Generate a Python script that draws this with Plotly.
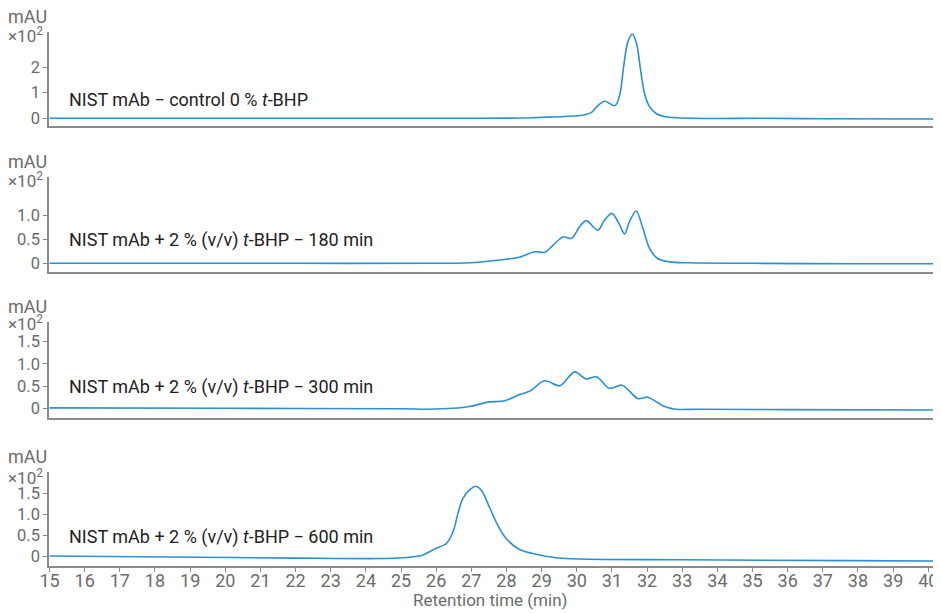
import plotly.graph_objects as go

# ---- data ----
t_ctrl = [15, 22, 27, 28.35, 29.05, 29.65, 30.17, 30.42, 30.57, 30.79, 31.09, 31.22, 31.34, 31.45,
          31.58, 31.70, 31.81, 31.93, 32.07, 32.27, 32.52, 32.87, 34, 35.2, 37, 40.2]
v_ctrl = [-0.01, -0.01, -0.01, 0.0, 0.03, 0.06, 0.11, 0.22, 0.45, 0.66, 0.49, 0.9, 2.1, 3.0,
          3.32, 2.95, 1.95, 0.95, 0.45, 0.17, 0.05, 0.01, -0.02, -0.01, -0.03, -0.04]

t_180 = [15, 22, 26.0, 26.95, 27.81, 28.33, 28.81, 29.09, 29.33, 29.61, 29.85, 30.08, 30.27, 30.60,
         30.79, 31.0, 31.22, 31.36, 31.50, 31.69, 31.88, 32.07, 32.30, 32.63, 33.2, 35, 38, 40.2]
v_180 = [0.0, 0.0, 0.0, 0.01, 0.07, 0.12, 0.24, 0.23, 0.38, 0.55, 0.52, 0.76, 0.89, 0.69,
         0.90, 1.04, 0.80, 0.61, 0.87, 1.09, 0.73, 0.31, 0.10, 0.03, 0.01, 0.0, -0.01, -0.01]

t_300 = [15, 20, 25, 25.8, 26.48, 26.95, 27.48, 27.95, 28.38, 28.67, 29.09, 29.52, 29.94, 30.27,
         30.56, 30.93, 31.29, 31.74, 32.02, 32.44, 32.82, 33.48, 36, 40.2]
v_300 = [0.01, 0.0, -0.01, -0.02, 0.0, 0.04, 0.14, 0.17, 0.31, 0.39, 0.62, 0.51, 0.82, 0.66,
         0.71, 0.45, 0.52, 0.22, 0.25, 0.06, -0.02, -0.02, -0.03, -0.04]

t_600 = [15, 19.3, 22, 24.4, 25.06, 25.58, 25.96, 26.29, 26.48, 26.62, 26.76, 26.95, 27.12, 27.28,
         27.51, 27.75, 27.99, 28.36, 28.84, 29.41, 30.07, 33, 37.7, 40.2]
v_600 = [0.0, -0.03, -0.05, -0.06, -0.04, 0.01, 0.17, 0.30, 0.58, 1.02, 1.38, 1.58, 1.67, 1.58,
         1.18, 0.74, 0.42, 0.16, 0.04, -0.04, -0.07, -0.09, -0.11, -0.12]

labels = ["NIST mAb \u2212 control 0 % <i>t</i>-BHP",
          "NIST mAb + 2 % (v/v) <i>t</i>-BHP \u2212 180 min",
          "NIST mAb + 2 % (v/v) <i>t</i>-BHP \u2212 300 min",
          "NIST mAb + 2 % (v/v) <i>t</i>-BHP \u2212 600 min"]
label_y = [0.75, 0.485, 0.49, 0.46]

y_ranges = [[-0.316, 3.40], [-0.175, 1.804], [-0.225, 1.95], [-0.239, 2.017]]
y_ticks = [[0, 1, 2], [0, 0.5, 1.0], [0, 0.5, 1.0, 1.5], [0, 0.5, 1.0, 1.5]]
y_ticktext = [["0", "1", "2"], ["0", "0.5", "1.0"], ["0", "0.5", "1.0", "1.5"], ["0", "0.5", "1.0", "1.5"]]

x_ticks = list(range(15, 41))
x_range = [14.985, 40.22]

# the page offsets the figure by the default 8px body margin
OFF = 8
W, H = 941 - OFF, 613 - OFF
ML, MR = 49 - OFF, 5
PW = W - ML - MR
# positions measured in screen pixels of the reference
panel_px = [(32, 126), (176.7, 271.7), (321.7, 418.3), (471.7, 566)]
unit_px = [(16.7, 35), (161.7, 180), (306.7, 323), (456, 476.7)]


def fy(py):
    return 1 - (py - OFF) / H


def fx(px):
    return (px - OFF - ML) / PW


LINE = "#2a8fd6"
AX = "#8a8a8a"
TXT = "#6b6b6b"
FONT = "Roboto"

series = [(t_ctrl, v_ctrl), (t_180, v_180), (t_300, v_300), (t_600, v_600)]

fig = go.Figure()
layout = dict(
    width=W, height=H,
    margin=dict(l=ML, r=MR, t=0, b=0, autoexpand=False),
    plot_bgcolor="white", paper_bgcolor="white",
    showlegend=False,
    font=dict(family=FONT, color=TXT),
)
annotations = []
for i, (tx, vy) in enumerate(series):
    n = i + 1
    xa = "x" if n == 1 else f"x{n}"
    ya = "y" if n == 1 else f"y{n}"
    fig.add_trace(go.Scatter(x=tx, y=vy, mode="lines", xaxis=xa, yaxis=ya,
                             line=dict(color=LINE, width=1.6, shape="spline", smoothing=0.9),
                             hoverinfo="skip"))
    top, bot = panel_px[i]
    dom = [fy(bot), fy(top)]
    bottom_panel = (n == 4)
    layout[f"xaxis{'' if n == 1 else n}"] = dict(
        domain=[0, 1], range=x_range, anchor=ya, automargin=False,
        showline=True, linecolor=AX, linewidth=2, mirror=False,
        showgrid=False, zeroline=False,
        tickvals=x_ticks if bottom_panel else [],
        ticks="outside" if bottom_panel else "", ticklen=4, tickcolor=AX, tickwidth=1,
        showticklabels=bottom_panel, ticklabelstandoff=-7,
        tickfont=dict(family=FONT, size=18, color=TXT),
        fixedrange=True,
    )
    layout[f"yaxis{'' if n == 1 else n}"] = dict(
        domain=dom, range=y_ranges[i], anchor=xa, automargin=False,
        showline=True, linecolor=AX, linewidth=1.5,
        showgrid=False, zeroline=False,
        tickvals=y_ticks[i], ticktext=y_ticktext[i],
        ticks="outside", ticklen=4, tickcolor=AX, tickwidth=1,
        tickfont=dict(family=FONT, size=16.5, color=TXT),
        fixedrange=True,
    )
    annotations.append(dict(text=labels[i], x=15.5, y=label_y[i], xref=xa, yref=ya,
                            xanchor="left", yanchor="middle", showarrow=False,
                            font=dict(family=FONT, size=18, color="#222222")))
    uy1, uy2 = unit_px[i]
    annotations.append(dict(text="mAU", x=fx(27), y=fy(uy1),
                            xref="paper", yref="paper",
                            xanchor="center", yanchor="middle", showarrow=False,
                            font=dict(family=FONT, size=18, color=TXT)))
    annotations.append(dict(text="\u00d710<sup>2</sup>", x=fx(25), y=fy(uy2),
                            xref="paper", yref="paper",
                            xanchor="center", yanchor="middle", showarrow=False,
                            font=dict(family=FONT, size=17, color=TXT)))

annotations.append(dict(text="Retention time (min)", x=fx(490), y=fy(600),
                        xref="paper", yref="paper", xanchor="center", yanchor="middle",
                        showarrow=False, font=dict(family=FONT, size=17, color=TXT)))
layout["annotations"] = annotations
fig.update_layout(**layout)
fig.write_html("out.html")
